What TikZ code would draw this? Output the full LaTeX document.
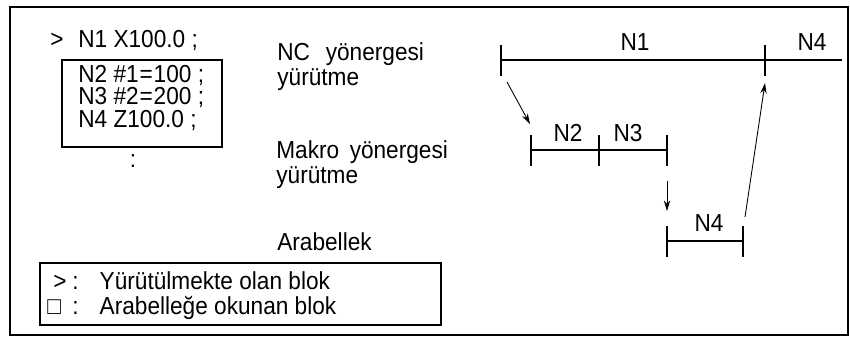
\documentclass[tikz,border=0pt]{standalone}
\usepackage{fontspec}
\setmainfont{Liberation Sans}[FakeStretch=0.92]
\usetikzlibrary{arrows.meta}
\begin{document}
\begin{tikzpicture}[x=.2mm,y=-.2mm,every node/.style={font=\fontsize{14}{16}\selectfont,inner sep=0pt},lbl/.style={anchor=base west},seg/.style={line width=1.5pt},flow/.style={-{Stealth[length=6pt,width=3.6pt]},line width=.5pt}]
\useasboundingbox (0,0) rectangle (850,336);
\draw[line width=.6pt] (10,7) rectangle (848,335);
% program and buffer
\node[lbl] (gt) at (50,47) {>};\node[lbl] (n1) at (78,47) {N1 X100.0 ;};
\draw[line width=.6pt] (62,60) rectangle (222,147);
\node[lbl] (n2) at (78,82) {N2 \#1\kern.5pt=\kern.5pt100 ;};\node[lbl] (n3) at (78,104.5) {N3 \#2\kern.5pt=\kern.5pt200 ;};\node[lbl] (n4) at (78,127) {N4 Z100.0 ;};
\node[anchor=base] (dots) at (133,167) {:};
\node[lbl] (nc) at (277,60) {NC\hspace{9pt}yönergesi};\node[lbl] (nc2) at (277,85) {yürütme};
\node[lbl] (mk) at (276,158) {Makro\hspace{6pt}yönergesi};\node[lbl] (mk2) at (276,183) {yürütme};
\node[lbl] (buf) at (277,250) {Arabellek};
% time lines
\coordinate (a0) at (501,60);\coordinate (a1) at (765,60);\coordinate (a2) at (842,60);
\coordinate (b0) at (531,150);\coordinate (b1) at (599,150);\coordinate (b2) at (667,150);
\coordinate (c0) at (667,241);\coordinate (c1) at (743,241);
\draw[seg] (a0)--(a2);\draw[seg] (b0)--(b2);\draw[seg] (c0)--(c1);
\foreach \p in {a0,a1,b0,b1,b2,c0,c1} \draw[seg] (\p) ++(0,-15)--++(0,31);
\node (ta) at (635,42) {N1};\node (tb) at (812,42) {N4};
\node (tc) at (568,133) {N2};\node (td) at (628,133) {N3};\node (te) at (709,223) {N4};
\draw[flow] ([shift={(6,22)}]a0)--([shift={(-1,-26)}]b0);
\draw[flow] ([shift={(0,31)}]b2)--([shift={(0,-30)}]c0);
\draw[flow] ([shift={(2,-24)}]c1)--([shift={(0,23)}]a1);
% legend
\draw[line width=.6pt] (40,263) rectangle (441,325);
\node[lbl] (lg1) at (53,289) {>};\node[lbl] (lt1) at (72,289) {:\hspace{12pt}Yürütülmekte olan blok};
\node[lbl] (lg2) at (47,314) {□};\node[lbl] (lt2) at (72,314) {:\hspace{12pt}Arabelleğe okunan blok};
\end{tikzpicture}
\end{document}
